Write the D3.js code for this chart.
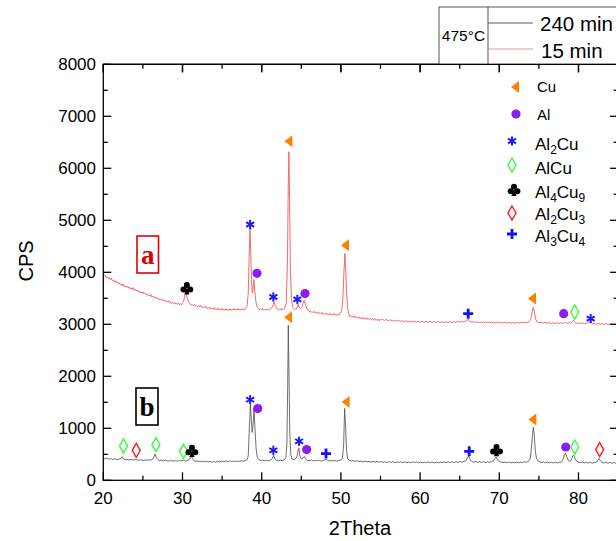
<!DOCTYPE html>
<html><head><meta charset="utf-8">
<script src="https://cdn.jsdelivr.net/npm/d3@7"></script>
<style>body{margin:0;background:#fff}svg{display:block}</style>
</head><body><svg id="c" width="616" height="541" font-family="Liberation Sans, Arial, sans-serif"></svg>
<script>
// ---- data (2Theta, CPS) ----
const series240 = [[20,430],[20.25,415],[20.5,425],[20.75,405],[21,418],[21.25,400],[21.5,412],[21.75,395],[22,408],[22.25,420],[22.4,455],[22.55,410],[22.75,398],[23,405],[23.25,390],[23.5,402],[23.75,388],[24,400],[24.25,392],[24.5,385],[24.75,398],[25,380],[25.25,392],[25.5,384],[25.75,396],[26,388],[26.25,410],[26.45,470],[26.55,505],[26.7,430],[26.9,395],[27.1,378],[27.35,390],[27.6,372],[27.85,386],[28.1,376],[28.35,368],[28.6,382],[28.85,370],[29.1,378],[29.35,365],[29.6,380],[29.85,372],[30.1,385],[30.35,370],[30.6,380],[30.85,400],[31,450],[31.1,482],[31.25,420],[31.45,378],[31.7,365],[31.95,372],[32.2,360],[32.45,370],[32.7,356],[32.95,366],[33.2,352],[33.45,362],[33.7,350],[33.95,360],[34.2,348],[34.45,366],[34.7,355],[34.95,370],[35.2,358],[35.45,372],[35.7,360],[35.95,375],[36.2,362],[36.45,370],[36.7,358],[36.95,372],[37.2,362],[37.45,376],[37.7,366],[37.95,380],[38.15,395],[38.3,470],[38.45,1050],[38.58,1460],[38.7,1150],[38.8,920],[38.9,1050],[39.02,1370],[39.15,1000],[39.3,600],[39.45,440],[39.65,395],[39.9,380],[40.15,392],[40.4,372],[40.65,385],[40.9,376],[41.15,392],[41.35,420],[41.5,480],[41.65,415],[41.85,385],[42.1,372],[42.35,388],[42.6,378],[42.85,392],[43.05,430],[43.18,700],[43.28,1800],[43.36,2980],[43.45,2000],[43.55,900],[43.68,480],[43.85,410],[44.05,395],[44.25,410],[44.45,450],[44.6,580],[44.7,615],[44.82,480],[44.95,420],[45.1,410],[45.25,440],[45.4,455],[45.55,410],[45.75,385],[46,378],[46.25,390],[46.5,372],[46.75,384],[47,375],[47.25,388],[47.5,370],[47.75,382],[48,395],[48.15,410],[48.3,385],[48.5,372],[48.75,385],[49,370],[49.25,380],[49.5,368],[49.75,382],[50,390],[50.2,430],[50.35,700],[50.47,1380],[50.58,1100],[50.7,600],[50.85,420],[51.05,385],[51.3,372],[51.55,380],[51.8,362],[52.05,375],[52.3,360],[52.55,372],[52.8,355],[53.05,368],[53.3,352],[53.55,365],[53.8,348],[54.05,362],[54.3,350],[54.55,364],[54.8,346],[55.05,360],[55.3,345],[55.55,358],[55.8,342],[56.05,356],[56.3,345],[56.55,360],[56.8,340],[57.05,354],[57.3,342],[57.55,356],[57.8,340],[58.05,352],[58.3,338],[58.55,350],[58.8,340],[59.05,355],[59.3,342],[59.55,352],[59.8,338],[60.05,350],[60.3,336],[60.55,348],[60.8,340],[61.05,354],[61.3,338],[61.55,350],[61.8,336],[62.05,348],[62.3,335],[62.55,350],[62.8,338],[63.05,352],[63.3,340],[63.55,355],[63.8,342],[64.05,356],[64.3,345],[64.55,358],[64.8,344],[65.05,360],[65.3,350],[65.55,362],[65.8,380],[66,440],[66.12,470],[66.28,410],[66.5,365],[66.75,350],[67,362],[67.25,346],[67.5,358],[67.75,344],[68,356],[68.25,342],[68.5,355],[68.75,345],[69,360],[69.25,372],[69.45,420],[69.6,448],[69.75,400],[69.95,365],[70.2,352],[70.45,340],[70.7,352],[70.95,338],[71.2,350],[71.45,336],[71.7,348],[71.95,335],[72.2,350],[72.45,338],[72.7,352],[72.95,340],[73.2,356],[73.45,345],[73.7,365],[73.9,420],[74.05,600],[74.2,900],[74.3,1020],[74.42,850],[74.55,560],[74.7,420],[74.9,370],[75.1,355],[75.35,340],[75.6,352],[75.85,338],[76.1,350],[76.35,335],[76.6,348],[76.85,334],[77.1,346],[77.35,335],[77.6,348],[77.85,352],[78.05,400],[78.2,480],[78.35,520],[78.5,460],[78.7,385],[78.95,362],[79.15,410],[79.28,470],[79.4,482],[79.55,420],[79.75,370],[80,350],[80.25,338],[80.5,350],[80.75,335],[81,346],[81.25,332],[81.5,344],[81.75,330],[82,342],[82.25,348],[82.45,390],[82.6,420],[82.75,380],[82.95,345],[83.2,332],[83.45,344],[83.7,330],[83.95,342],[84.2,328],[84.45,340],[84.7,330],[85,336]];

const series15 = [[20,3960],[20.12,3925],[20.25,3945],[20.38,3900],[20.5,3915],[20.62,3880],[20.75,3895],[20.88,3860],[21,3885],[21.12,3845],[21.25,3850],[21.38,3815],[21.5,3840],[21.62,3800],[21.75,3815],[21.88,3780],[22,3800],[22.12,3765],[22.25,3775],[22.38,3740],[22.5,3770],[22.62,3730],[22.75,3745],[22.88,3710],[23,3730],[23.12,3700],[23.25,3715],[23.38,3685],[23.5,3700],[23.62,3670],[23.75,3705],[23.88,3660],[24,3675],[24.12,3640],[24.25,3660],[24.38,3630],[24.5,3645],[24.62,3605],[24.75,3625],[24.88,3600],[25,3625],[25.12,3585],[25.25,3600],[25.38,3570],[25.5,3585],[25.62,3550],[25.75,3570],[25.88,3545],[26,3575],[26.12,3525],[26.25,3545],[26.38,3515],[26.5,3530],[26.62,3495],[26.75,3515],[26.88,3485],[27,3500],[27.12,3470],[27.25,3490],[27.38,3460],[27.5,3478],[27.62,3450],[27.75,3468],[27.88,3435],[28,3450],[28.12,3425],[28.25,3455],[28.38,3415],[28.5,3430],[28.62,3400],[28.75,3420],[28.88,3395],[29,3425],[29.12,3390],[29.25,3405],[29.38,3380],[29.5,3408],[29.62,3378],[29.75,3392],[29.88,3375],[30,3405],[30.15,3450],[30.3,3560],[30.45,3590],[30.6,3500],[30.8,3420],[31,3395],[31.12,3365],[31.25,3380],[31.38,3360],[31.5,3385],[31.62,3350],[31.75,3362],[31.88,3340],[32,3352],[32.12,3335],[32.25,3365],[32.38,3330],[32.5,3342],[32.62,3318],[32.75,3332],[32.88,3315],[33,3345],[33.12,3305],[33.25,3318],[33.38,3300],[33.5,3326],[33.62,3295],[33.75,3308],[33.88,3290],[34,3320],[34.12,3285],[34.25,3298],[34.38,3280],[34.5,3310],[34.62,3278],[34.75,3292],[34.88,3275],[35,3305],[35.12,3272],[35.25,3288],[35.38,3270],[35.5,3300],[35.62,3268],[35.75,3282],[35.88,3270],[36,3296],[36.12,3268],[36.25,3286],[36.38,3272],[36.5,3305],[36.62,3275],[36.75,3290],[36.88,3270],[37,3300],[37.12,3275],[37.25,3286],[37.38,3272],[37.5,3305],[37.62,3278],[37.75,3295],[37.88,3280],[38,3312],[38.15,3350],[38.3,3600],[38.42,4300],[38.52,4850],[38.62,4400],[38.72,3800],[38.82,3600],[38.92,3700],[39.02,3860],[39.12,3650],[39.25,3450],[39.4,3340],[39.6,3310],[39.72,3280],[39.85,3295],[39.98,3272],[40.1,3305],[40.22,3275],[40.35,3290],[40.48,3270],[40.6,3300],[40.72,3272],[40.85,3285],[40.98,3275],[41.1,3305],[41.3,3320],[41.45,3380],[41.58,3430],[41.7,3360],[41.9,3310],[42.02,3280],[42.15,3295],[42.28,3272],[42.4,3305],[42.52,3278],[42.65,3290],[42.78,3282],[42.9,3312],[43.1,3400],[43.25,4200],[43.35,5600],[43.43,6320],[43.52,5400],[43.62,4100],[43.75,3500],[43.9,3330],[44.05,3300],[44.15,3280],[44.25,3295],[44.35,3285],[44.45,3320],[44.6,3390],[44.72,3330],[44.9,3300],[45.1,3330],[45.25,3420],[45.38,3460],[45.52,3380],[45.7,3300],[45.9,3262],[46.02,3240],[46.15,3255],[46.28,3232],[46.4,3238],[46.52,3220],[46.65,3250],[46.78,3215],[46.9,3228],[47.02,3210],[47.15,3240],[47.28,3205],[47.4,3215],[47.52,3200],[47.65,3230],[47.78,3195],[47.9,3205],[48.02,3190],[48.15,3220],[48.28,3188],[48.4,3200],[48.52,3182],[48.65,3212],[48.78,3180],[48.9,3195],[49.02,3178],[49.15,3205],[49.28,3172],[49.4,3185],[49.52,3170],[49.65,3198],[49.78,3180],[49.9,3205],[50.1,3260],[50.25,3500],[50.38,4000],[50.5,4360],[50.6,4100],[50.72,3600],[50.85,3300],[51,3200],[51.12,3150],[51.25,3165],[51.38,3140],[51.5,3155],[51.62,3130],[51.75,3165],[51.88,3125],[52,3135],[52.12,3115],[52.25,3150],[52.38,3110],[52.5,3125],[52.62,3105],[52.75,3140],[52.88,3100],[53,3115],[53.12,3095],[53.25,3130],[53.38,3092],[53.5,3105],[53.62,3088],[53.75,3120],[53.88,3085],[54,3098],[54.12,3080],[54.25,3115],[54.38,3078],[54.5,3090],[54.62,3072],[54.75,3105],[54.88,3070],[55,3085],[55.25,3095],[55.5,3075],[55.75,3090],[56,3070],[56.25,3085],[56.5,3065],[56.75,3080],[57,3060],[57.25,3075],[57.5,3055],[57.75,3070],[58,3050],[58.25,3065],[58.5,3045],[58.75,3060],[59,3048],[59.25,3062],[59.5,3040],[59.75,3055],[60,3042],[60.25,3058],[60.5,3038],[60.75,3052],[61,3040],[61.25,3055],[61.5,3035],[61.75,3050],[62,3038],[62.25,3052],[62.5,3034],[62.75,3048],[63,3036],[63.25,3050],[63.5,3032],[63.75,3048],[64,3036],[64.25,3052],[64.5,3038],[64.75,3055],[65,3040],[65.25,3058],[65.5,3045],[65.75,3060],[65.95,3080],[66.1,3095],[66.25,3060],[66.5,3040],[66.75,3052],[67,3034],[67.25,3048],[67.5,3030],[67.75,3045],[68,3028],[68.25,3042],[68.5,3030],[68.75,3045],[69,3028],[69.25,3040],[69.5,3026],[69.75,3042],[70,3025],[70.25,3040],[70.5,3024],[70.75,3038],[71,3022],[71.25,3036],[71.5,3020],[71.75,3035],[72,3022],[72.25,3038],[72.5,3020],[72.75,3036],[73,3024],[73.25,3040],[73.5,3030],[73.75,3050],[73.95,3090],[74.1,3200],[74.22,3310],[74.32,3320],[74.45,3220],[74.6,3100],[74.8,3045],[75,3030],[75.25,3040],[75.5,3022],[75.75,3036],[76,3020],[76.25,3034],[76.5,3018],[76.75,3032],[77,3016],[77.25,3030],[77.5,3015],[77.75,3028],[78,3018],[78.25,3035],[78.5,3020],[78.75,3030],[79,3025],[79.2,3050],[79.38,3078],[79.55,3040],[79.75,3018],[80,3028],[80.25,3012],[80.5,3025],[80.75,3008],[81,3020],[81.25,3030],[81.45,3050],[81.6,3035],[81.8,3005],[82,3018],[82.25,3002],[82.5,3015],[82.75,3000],[83,3012],[83.25,2998],[83.5,3010],[83.75,2995],[84,3008],[84.25,2994],[84.5,3005],[84.75,2992],[85,3002]];

const markers15 = [["Al4Cu9",30.55,3690],["Al2Cu",38.54,4920],["Al",39.4,3980],["Al2Cu",41.47,3525],["Cu",43.37,6520],["Al2Cu",44.5,3480],["Al",45.47,3590],["Cu",50.52,4520],["Al3Cu4",66.07,3205],["Cu",74.13,3495],["Al",78.13,3205],["AlCu",79.52,3237],["Al2Cu",81.54,3110]];
const markers240 = [["AlCu",22.56,660],["Al2Cu3",24.16,577],["AlCu",26.64,686],["AlCu",30.13,558],["Al4Cu9",31.19,563],["Al2Cu",38.54,1550],["Al",39.5,1380],["Al2Cu",41.47,577],["Cu",43.33,3135],["Al2Cu",44.72,750],["Al",45.68,590],["Al3Cu4",48.12,513],["Cu",50.6,1505],["Al3Cu4",66.2,557],["Al4Cu9",69.65,577],["Cu",74.18,1167],["Al",78.39,640],["AlCu",79.52,640],["Al2Cu3",82.67,590]];

const xMajorTicks = [20,30,40,50,60,70,80];
const xMinorTicks = [25,35,45,55,65,75,85];
const yMajorTicks = [0,1000,2000,3000,4000,5000,6000,7000,8000];
const yMinorTicks = [500,1500,2500,3500,4500,5500,6500,7500];
const phaseKeys = ["Cu","Al","Al2Cu","AlCu","Al4Cu9","Al2Cu3","Al3Cu4"];
const phaseLabels = [[["Cu",0]],[["Al",0]],[["Al",0],["2",1],["Cu",0]],[["AlCu",0]],[["Al",0],["4",1],["Cu",0],["9",1]],[["Al",0],["2",1],["Cu",0],["3",1]],[["Al",0],["3",1],["Cu",0],["4",1]]];
const seriesNames = ["240 min","15 min"];

// ---- drawing ----
const svg = d3.select("#c");
const x = d3.scaleLinear().domain([20,85]).range([103.3,618.1]);
const y = d3.scaleLinear().domain([0,8000]).range([480.3,64.3]);
const colors = {Cu:"#ff7f00",Al:"#8a1ef2",Al2Cu:"#1a1aff",AlCu:"#33ff33",Al4Cu9:"#000",Al2Cu3:"#ff1a1a",Al3Cu4:"#1010ff"};
const c240 = "#4a4a4a", c15 = "#f05a5a";

const line = d3.line().x(d=>x(d[0])).y(d=>y(d[1]));
svg.append("path").datum(series240).attr("d",line).attr("fill","none").attr("stroke",c240).attr("stroke-width",0.8);
svg.append("path").datum(series15).attr("d",line).attr("fill","none").attr("stroke",c15).attr("stroke-width",0.9);

const ax = svg.append("g").attr("stroke","#000").attr("stroke-width",1.3);
const X0=x.range()[0], X1=x.range()[1], Y0=y.range()[0], Y1=y.range()[1];
ax.append("rect").attr("x",X0).attr("y",Y1).attr("width",X1-X0).attr("height",Y0-Y1).attr("fill","none");
function tick(x1,y1,x2,y2){ax.append("line").attr("x1",x1).attr("y1",y1).attr("x2",x2).attr("y2",y2);}
xMajorTicks.forEach(v=>{tick(x(v),Y0,x(v),Y0-8);tick(x(v),Y1,x(v),Y1+8);});
xMinorTicks.forEach(v=>{tick(x(v),Y0,x(v),Y0-4.5);tick(x(v),Y1,x(v),Y1+4.5);});
yMajorTicks.forEach(v=>{tick(X0,y(v),X0+8,y(v));tick(X1,y(v),X1-8,y(v));});
yMinorTicks.forEach(v=>{tick(X0,y(v),X0+4.5,y(v));tick(X1,y(v),X1-4.5,y(v));});

svg.append("g").selectAll("text").data(xMajorTicks).join("text")
  .attr("x",d=>x(d)).attr("y",503.5).attr("text-anchor","middle").attr("font-size",17).text(d=>d);
svg.append("g").selectAll("text").data(yMajorTicks).join("text")
  .attr("x",96).attr("y",d=>y(d)+6).attr("text-anchor","end").attr("font-size",17).text(d=>d);
svg.append("text").attr("x",360).attr("y",535).attr("text-anchor","middle").attr("font-size",20).text("2Theta");
svg.append("text").attr("transform","translate(32.5,261) rotate(-90)").attr("text-anchor","middle").attr("font-size",20).text("CPS");

function drawMarker(g, type, cx, cy){
  const col = colors[type];
  const s = g.append("g").attr("transform",`translate(${cx},${cy})`);
  if(type==="Cu"){
    s.append("path").attr("d","M-4,0L4,-6L4,6Z").attr("fill",col);
  } else if(type==="Al"){
    s.append("circle").attr("r",4.6).attr("fill",col);
  } else if(type==="Al2Cu"){
    const r=4.6;
    [90,30,150].forEach(a=>{const t=a*Math.PI/180;
      s.append("line").attr("x1",-r*Math.cos(t)).attr("y1",-r*Math.sin(t)).attr("x2",r*Math.cos(t)).attr("y2",r*Math.sin(t)).attr("stroke",col).attr("stroke-width",2);});
  } else if(type==="AlCu"||type==="Al2Cu3"){
    s.append("path").attr("d","M0,-7L4,0L0,7L-4,0Z").attr("fill","none").attr("stroke",col).attr("stroke-width",1.4);
  } else if(type==="Al4Cu9"){
    s.append("circle").attr("cx",0).attr("cy",-3.3).attr("r",3).attr("fill",col);
    s.append("circle").attr("cx",-3.4).attr("cy",1.2).attr("r",3).attr("fill",col);
    s.append("circle").attr("cx",3.4).attr("cy",1.2).attr("r",3).attr("fill",col);
    s.append("path").attr("d","M0,-1L2.6,6L-2.6,6Z").attr("fill",col);
  } else if(type==="Al3Cu4"){
    s.append("path").attr("d","M-5,0H5M0,-5V5").attr("stroke",col).attr("stroke-width",2.8);
  }
}
const mg = svg.append("g");
markers15.forEach(m=>drawMarker(mg,m[0],x(m[1]),y(m[2])));
markers240.forEach(m=>drawMarker(mg,m[0],x(m[1]),y(m[2])));

const legY = [87,114,141,165,190,213,234];
const legTextY = [92,119.5,149.5,174.3,197.5,220,241.5];
const legMX = [515,516,512,512,514,512,512];
const lg = svg.append("g");
phaseKeys.forEach((k,i)=>{
  drawMarker(lg,k,legMX[i],legY[i]);
  const fs = i<2?15:17;
  const t = lg.append("text").attr("x",i<2?537:535).attr("y",legTextY[i]).attr("font-size",fs);
  phaseLabels[i].forEach((p,j)=>{
    const prevSub = j>0 ? phaseLabels[i][j-1][1] : 0;
    const ts=t.append("tspan").text(p[0]);
    if(p[1]) ts.attr("font-size",12);
    ts.attr("dy", p[1] && !prevSub ? 4 : (!p[1] && prevSub ? -4 : 0));
  });
});

const bg = svg.append("g");
bg.append("rect").attr("x",439).attr("y",7).attr("width",260).attr("height",Y1-7).attr("fill","#fff").attr("stroke","#555").attr("stroke-width",1);
bg.append("line").attr("x1",488).attr("x2",488).attr("y1",7).attr("y2",Y1).attr("stroke","#555");
bg.append("text").attr("x",463.5).attr("y",40.5).attr("text-anchor","middle").attr("font-size",15.5).text("475°C");
bg.append("line").attr("x1",488).attr("x2",533).attr("y1",23).attr("y2",23).attr("stroke",c240).attr("stroke-width",0.9);
bg.append("line").attr("x1",488).attr("x2",533).attr("y1",49).attr("y2",49).attr("stroke",c15).attr("stroke-width",0.9).attr("opacity",0.7);
bg.append("text").attr("x",540).attr("y",30.5).attr("font-size",20.5).text(seriesNames[0]);
bg.append("text").attr("x",541).attr("y",57.5).attr("font-size",20.5).text(seriesNames[1]);
svg.append("line").attr("x1",X0).attr("x2",X1).attr("y1",Y1).attr("y2",Y1).attr("stroke","#000").attr("stroke-width",1.3);
xMajorTicks.forEach(v=>svg.append("line").attr("x1",x(v)).attr("x2",x(v)).attr("y1",Y1).attr("y2",Y1+8).attr("stroke","#000").attr("stroke-width",1.3));

svg.append("rect").attr("x",137).attr("y",236).attr("width",21.5).attr("height",37).attr("fill","#fff").attr("stroke","#e00000").attr("stroke-width",1.6);
svg.append("text").attr("x",147.8).attr("y",264).attr("text-anchor","middle").style("font-family","'Liberation Serif', 'Times New Roman', serif").attr("font-weight","bold").attr("font-size",27).attr("fill","#e00000").text("a");
svg.append("rect").attr("x",136).attr("y",388).attr("width",22).attr("height",37).attr("fill","#fff").attr("stroke","#000").attr("stroke-width",1.6);
svg.append("text").attr("x",147).attr("y",416).attr("text-anchor","middle").style("font-family","'Liberation Serif', 'Times New Roman', serif").attr("font-weight","bold").attr("font-size",27).attr("fill","#000").text("b");
</script></body></html>
